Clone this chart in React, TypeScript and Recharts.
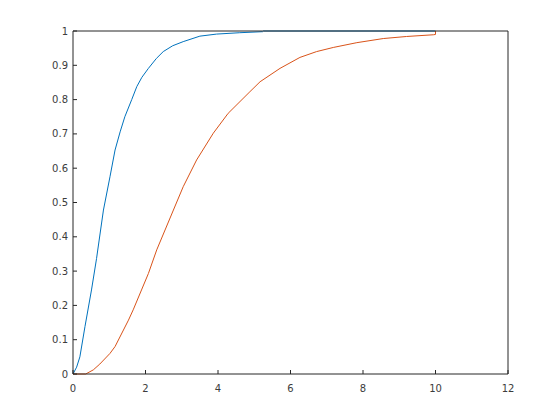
import { LineChart, Line, XAxis, YAxis } from 'recharts'

const blueX = [0, 0.1, 0.19, 0.33, 0.51, 0.65, 0.84, 1.02, 1.16, 1.3, 1.43, 1.62, 1.76, 1.9, 2.08, 2.3, 2.49, 2.75, 3.04, 3.5, 3.96, 4.6, 5.23, 5.25, 10]
const blueY = [0, 0.02, 0.05, 0.138, 0.245, 0.337, 0.478, 0.575, 0.653, 0.706, 0.75, 0.8, 0.838, 0.865, 0.891, 0.92, 0.94, 0.957, 0.969, 0.985, 0.991, 0.995, 0.998, 1, 1]

const redX = [0, 0.35, 0.56, 0.74, 1.02, 1.16, 1.53, 1.66, 1.89, 2.08, 2.31, 2.77, 3.04, 3.41, 3.87, 4.28, 4.88, 5.16, 5.71, 6.26, 6.72, 7.18, 7.83, 8.56, 9.2, 9.94, 10, 10]
const redY = [0, 0, 0.012, 0.029, 0.06, 0.08, 0.157, 0.187, 0.245, 0.293, 0.362, 0.478, 0.546, 0.624, 0.702, 0.76, 0.823, 0.852, 0.891, 0.923, 0.94, 0.952, 0.966, 0.978, 0.984, 0.989, 0.99, 1]

const xTicks = [0, 2, 4, 6, 8, 10, 12]
const yTicks = [0, 0.1, 0.2, 0.3, 0.4, 0.5, 0.6, 0.7, 0.8, 0.9, 1]

const blueData = blueX.map((x, i) => ({ x, y: blueY[i] }))
const redData = redX.map((x, i) => ({ x, y: redY[i] }))

const axisColor = '#262626'
const tickFont = { fontSize: 10, fill: '#3c3c3c', fontFamily: 'DejaVu Sans' }

export default function App() {
  return (
    <div style={{ position: 'absolute', left: 0, top: 0, width: 560, height: 420, background: '#fff' }}>
      <LineChart width={560} height={420} margin={{ top: 21, right: 42, bottom: 16, left: 33 }}>
        <XAxis
          xAxisId="b"
          type="number"
          dataKey="x"
          domain={[0, 12]}
          ticks={xTicks}
          height={30}
          stroke={axisColor}
          tickSize={-4}
          tickMargin={15}
          tick={tickFont}
          allowDataOverflow
        />
        <XAxis
          xAxisId="t"
          orientation="top"
          type="number"
          dataKey="x"
          domain={[0, 12]}
          ticks={xTicks}
          height={10}
          stroke={axisColor}
          tickSize={-4}
          tick={false}
        />
        <YAxis
          yAxisId="l"
          type="number"
          domain={[0, 1]}
          ticks={yTicks}
          width={40}
          stroke={axisColor}
          tickSize={-4}
          tickMargin={9}
          tick={tickFont}
          tickFormatter={(v: number) => String(Math.round(v * 10) / 10)}
        />
        <YAxis
          yAxisId="r"
          orientation="right"
          type="number"
          domain={[0, 1]}
          ticks={yTicks}
          width={10}
          stroke={axisColor}
          tickSize={-4}
          tick={false}
        />
        <Line
          xAxisId="b"
          yAxisId="l"
          data={blueData}
          dataKey="y"
          type="linear"
          stroke="#0072BD"
          strokeWidth={1}
          dot={false}
          isAnimationActive={false}
        />
        <Line
          xAxisId="b"
          yAxisId="l"
          data={redData}
          dataKey="y"
          type="linear"
          stroke="#D95319"
          strokeWidth={1}
          dot={false}
          isAnimationActive={false}
        />
      </LineChart>
    </div>
  )
}
